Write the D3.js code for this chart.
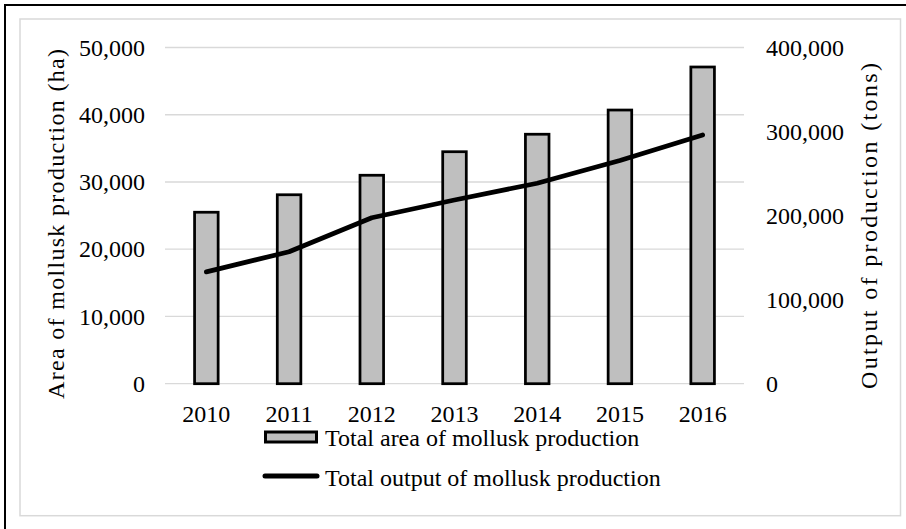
<!DOCTYPE html>
<html>
<head>
<meta charset="utf-8">
<script src="https://cdn.jsdelivr.net/npm/d3@7"></script>
<style>
  html, body { margin: 0; padding: 0; background: #fff; }
  svg { display: block; }
  text { font-family: "Liberation Serif", "Times New Roman", serif; fill: #000; }
</style>
</head>
<body>
<svg id="chart" width="906" height="529"></svg>
<script>
// Mollusk production, 2010-2016
const years = ["2010", "2011", "2012", "2013", "2014", "2015", "2016"];
const areaHa = [25500, 28100, 31000, 34500, 37100, 40700, 47100];
const outputTons = [133000, 157000, 197500, 218500, 238500, 265500, 296000];
const leftTicks = [0, 10000, 20000, 30000, 40000, 50000];
const rightTicks = [0, 100000, 200000, 300000, 400000];
const leftTitle = "Area of mollusk production (ha)";
const rightTitle = "Output of production (tons)";
const legendLabels = ["Total area of mollusk production", "Total output of mollusk production"];

const svg = d3.select("#chart");
const fmt = d3.format(",");
const FS = 24;

// frame: black outer border, light inner border
svg.append("rect").attr("x", 5).attr("y", 5).attr("width", 1000).attr("height", 1000)
  .attr("fill", "none").attr("stroke", "#000").attr("stroke-width", 2);
svg.append("rect").attr("x", 20).attr("y", 19).attr("width", 880.5).attr("height", 496.7)
  .attr("fill", "#fff").attr("stroke", "#d9d9d9").attr("stroke-width", 1.5);

const plot = { left: 165, right: 744, top: 47.5, bottom: 383.7 };

const x = d3.scaleBand().domain(years).range([plot.left, plot.right]).paddingInner(0.715).paddingOuter(0.3575);
const yL = d3.scaleLinear().domain([0, 50000]).range([plot.bottom, plot.top]);
const yR = d3.scaleLinear().domain([0, 400000]).range([plot.bottom, plot.top]);

// horizontal gridlines
svg.append("g").selectAll("line").data(leftTicks).join("line")
  .attr("x1", plot.left).attr("x2", plot.right)
  .attr("y1", d => yL(d)).attr("y2", d => yL(d))
  .attr("stroke", "#d9d9d9").attr("stroke-width", 1.3);

// left axis tick labels
const axL = svg.append("g").attr("transform", `translate(${plot.left - 20},0)`)
  .call(d3.axisLeft(yL).tickValues(leftTicks).tickFormat(fmt).tickSize(0).tickPadding(0));
axL.select(".domain").remove();
axL.selectAll("text").attr("font-size", FS).attr("font-family", "Liberation Serif")
  .attr("dy", "0.32em").attr("fill", "#000");

// right axis tick labels
const axR = svg.append("g").attr("transform", `translate(${plot.right + 22},0)`)
  .call(d3.axisRight(yR).tickValues(rightTicks).tickFormat(fmt).tickSize(0).tickPadding(0));
axR.select(".domain").remove();
axR.selectAll("text").attr("font-size", FS).attr("font-family", "Liberation Serif")
  .attr("dy", "0.32em").attr("fill", "#000");

// category labels
const axB = svg.append("g").attr("transform", `translate(0,${plot.bottom})`)
  .call(d3.axisBottom(x).tickSize(0).tickPadding(0));
axB.select(".domain").remove();
axB.selectAll("text").attr("font-size", FS).attr("font-family", "Liberation Serif")
  .attr("dy", null).attr("y", 38).attr("fill", "#000");

// bars (area)
svg.append("g").selectAll("rect").data(years).join("rect")
  .attr("x", d => x(d)).attr("width", x.bandwidth())
  .attr("y", (d, i) => yL(areaHa[i])).attr("height", (d, i) => yL(0) - yL(areaHa[i]))
  .attr("fill", "#bfbfbf").attr("stroke", "#000").attr("stroke-width", 2.75);

// line (output)
const line = d3.line().x((d, i) => x(years[i]) + x.bandwidth() / 2).y(d => yR(d));
svg.append("path").datum(outputTons).attr("d", line)
  .attr("fill", "none").attr("stroke", "#000").attr("stroke-width", 4.75)
  .attr("stroke-linecap", "round").attr("stroke-linejoin", "round");

// axis titles
svg.append("text").attr("transform", "translate(63.5,224) rotate(-90)")
  .attr("text-anchor", "middle").attr("font-size", FS)
  .attr("textLength", 350).attr("lengthAdjust", "spacing").text(leftTitle);
svg.append("text").attr("transform", "translate(877,226) rotate(-90)")
  .attr("text-anchor", "middle").attr("font-size", FS)
  .attr("textLength", 326).attr("lengthAdjust", "spacing").text(rightTitle);

// legend
const lg = svg.append("g");
lg.append("rect").attr("x", 265.5).attr("y", 432).attr("width", 51).attr("height", 10)
  .attr("fill", "#bfbfbf").attr("stroke", "#000").attr("stroke-width", 3);
lg.append("text").attr("x", 325).attr("y", 445.7).attr("font-size", FS).text(legendLabels[0]);
lg.append("line").attr("x1", 265).attr("x2", 317).attr("y1", 476).attr("y2", 476)
  .attr("stroke", "#000").attr("stroke-width", 5).attr("stroke-linecap", "round");
lg.append("text").attr("x", 325).attr("y", 486).attr("font-size", FS).text(legendLabels[1]);
</script>
</body>
</html>
